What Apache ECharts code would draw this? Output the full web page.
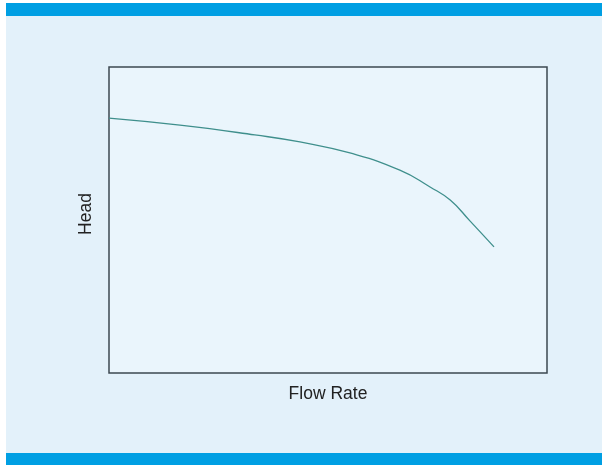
<!DOCTYPE html>
<html>
<head>
<meta charset="utf-8">
<script src="https://cdn.jsdelivr.net/npm/echarts@6/dist/echarts.min.js"></script>
<style>
html,body{margin:0;padding:0;background:#ffffff;}
#c{width:602px;height:465px;}
</style>
</head>
<body>
<div id="c"></div>
<script>
// Flow rate (x, relative units) and head (y, relative units)
var flowRate = [0, 16.2, 33.3, 43.6, 55.0, 66.4, 73.3, 77.9, 82.4, 87.9];
var head =     [83.3, 81.0, 77.8, 75.5, 71.9, 66.3, 60.8, 56.5, 49.7, 41.2];
var xName = 'Flow Rate';
var yName = 'Head';

var points = flowRate.map(function (x, i) { return [x, head[i]]; });

var chart = echarts.init(document.getElementById('c'), null, {renderer: 'canvas'});
chart.setOption({
  backgroundColor: '#ffffff',
  animation: false,
  graphic: [
    {type: 'rect', z: -10, shape: {x: 6, y: 16, width: 596, height: 437}, style: {fill: '#e3f1fa'}},
    {type: 'rect', z: -10, shape: {x: 6, y: 3, width: 596, height: 13}, style: {fill: '#009fe3'}},
    {type: 'rect', z: -10, shape: {x: 6, y: 453, width: 596, height: 12}, style: {fill: '#009fe3'}}
  ],
  grid: {
    left: 109, top: 67, width: 438, height: 306,
    show: true, backgroundColor: '#eaf5fc', borderColor: '#3d4850', borderWidth: 1.5
  },
  xAxis: {
    type: 'value', min: 0, max: 100,
    name: xName, nameLocation: 'middle', nameGap: 12,
    nameTextStyle: {fontFamily: 'Liberation Sans', fontSize: 17.5, color: '#222'},
    axisLine: {show: false}, axisTick: {show: false}, axisLabel: {show: false}, splitLine: {show: false}
  },
  yAxis: {
    type: 'value', min: 0, max: 100,
    name: yName, nameLocation: 'middle', nameGap: 14,
    nameTextStyle: {fontFamily: 'Liberation Sans', fontSize: 17.5, color: '#222', padding: [0, 0, 0, 12]},
    axisLine: {show: false}, axisTick: {show: false}, axisLabel: {show: false}, splitLine: {show: false}
  },
  series: [{
    type: 'line',
    data: points,
    smooth: 0.5,
    showSymbol: false,
    lineStyle: {color: '#3f8f8c', width: 1.3}
  }]
});
</script>
</body>
</html>
